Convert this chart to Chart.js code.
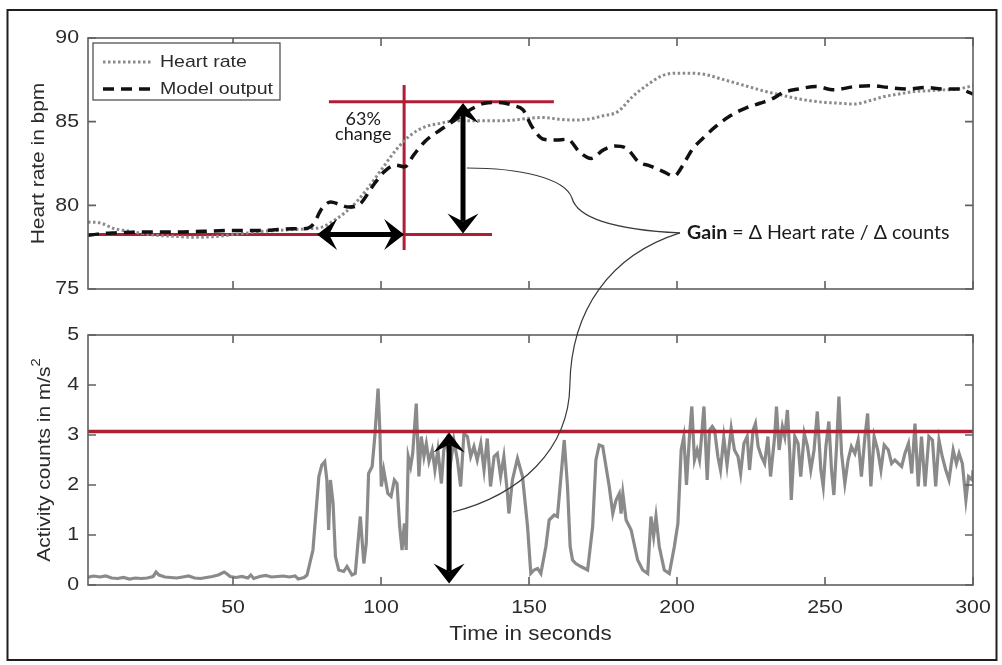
<!DOCTYPE html>
<html>
<head>
<meta charset="utf-8">
<script src="https://cdn.jsdelivr.net/npm/chart.js@4.4.1/dist/chart.umd.min.js"></script>
<style>
  body { margin: 0; background: #fff; }
  #fig { position: relative; width: 1002px; height: 665px; }
  #fig canvas { position: absolute; left: 0; top: 0; }
</style>
</head>
<body>
<div id="fig">
  <canvas id="hrChart" width="1002" height="665"></canvas>
  <canvas id="actChart" width="1002" height="665"></canvas>
  <canvas id="notes" width="1002" height="665"></canvas>
</div>
<script>
// ---- data ----
var timeTicks = [50, 100, 150, 200, 250, 300];
var hrTicks = [75, 80, 85, 90];
var countTicks = [0, 1, 2, 3, 4, 5];

var hrTime = [1, 5, 10, 15, 20, 25, 30, 35, 40, 45, 50, 55, 60, 65, 70, 75, 80, 85, 90, 95,
  100, 105, 110, 115, 120, 125, 130, 135, 140, 145, 150, 155, 160, 165, 170, 175, 180, 185, 190, 195,
  200, 205, 210, 215, 220, 225, 230, 235, 240, 245, 250, 255, 260, 265, 270, 275, 280, 285, 290, 295, 300];
var hrValue = [79.0, 78.95, 78.6, 78.45, 78.3, 78.2, 78.15, 78.1, 78.1, 78.15, 78.25, 78.35, 78.45, 78.5, 78.55, 78.6, 78.7, 79.2, 79.9, 80.9,
  82.1, 83.3, 84.2, 84.7, 84.9, 85.05, 85.05, 85.05, 85.05, 85.1, 85.2, 85.25, 85.15, 85.1, 85.15, 85.35, 85.6, 86.5, 87.2, 87.75,
  87.9, 87.9, 87.8, 87.55, 87.3, 87.05, 86.8, 86.6, 86.4, 86.25, 86.15, 86.1, 86.05, 86.25, 86.5, 86.65, 86.8, 86.85, 86.9, 86.95, 87.15];

var modelTime = [1, 5, 10, 20, 30, 40, 50, 60, 65, 70, 74, 77, 80, 83, 86, 89, 93, 97, 101, 105,
  108, 111, 115, 120, 125, 130, 135, 140, 145, 148, 151, 155, 159, 163, 167, 171, 175, 179, 183, 187,
  191, 195, 199, 202, 205, 209, 213, 218, 223, 228, 232, 236, 241, 247, 253, 260, 266, 271, 278, 284, 290, 295, 300];
var modelValue = [78.2, 78.3, 78.35, 78.4, 78.4, 78.45, 78.5, 78.5, 78.55, 78.6, 78.6, 78.85, 79.8, 80.2, 80.05, 79.9, 80.1, 81.1, 82.0, 82.4,
  82.3, 83.0, 83.85, 84.5, 85.1, 85.7, 86.1, 86.15, 85.95, 85.7, 84.7, 83.95, 83.9, 83.95, 83.2, 82.8, 83.3, 83.55, 83.4, 82.6,
  82.35, 82.05, 81.75, 82.4, 83.3, 84.05, 84.7, 85.35, 85.8, 86.1, 86.35, 86.75, 86.95, 87.1, 86.9, 87.1, 87.15, 87.05, 86.95, 87.05, 86.95, 86.95, 86.65];

var actTime = [1, 2, 3, 5, 7, 9, 11, 13, 15, 17, 19, 21, 23, 24, 25, 27, 29, 31, 33, 35,
  37, 39, 41, 43, 45, 47, 48, 49, 51, 53, 55, 56, 57, 59, 61, 63, 65, 67, 69, 71,
  72, 74, 75, 77, 79, 80, 81, 81.7, 82.3, 82.9, 83.8, 84.6, 85.7, 87.4, 88.5, 90.2, 91.3, 92.4, 93, 94.2,
  95, 95.8, 97, 97.9, 99, 99.6, 100.1, 100.9, 102.3, 103.4, 104.5, 105.4, 106.3, 107.1, 107.9, 108.5, 109.2, 110, 110.7, 111.9,
  112.8, 113.6, 114.5, 115.3, 116.2, 117.3, 118.2, 119.2, 120.4, 121.2, 122.2, 123.4, 124.6, 125.8, 126.9, 128, 129.2, 130.3, 131.4, 132.5,
  133.7, 134.8, 135.9, 137, 138.2, 139.3, 140.4, 141.5, 142.7, 143.2, 144.4, 146.1, 147.8, 149.5, 150.6, 151.7, 152.9, 154, 155.7, 156.8,
  158.5, 159.6, 160.8, 161.9, 163, 163.9, 164.7, 165.8, 167.5, 169.8, 171.5, 172.6, 173.7, 174.9, 176, 177.1, 178.3, 179.4, 180.5, 181.1,
  181.7, 182.8, 184.5, 186.7, 188.4, 190.1, 191.2, 192.1, 192.9, 194, 195.7, 197.4, 199.1, 200.3, 201.4, 202.3, 203.2, 204.2, 205, 205.9,
  206.8, 207.6, 208.2, 209.1, 210.2, 211, 211.9, 212.7, 213.8, 214.7, 215.8, 216.9, 218.3, 219.4, 220.6, 221.5, 222.6, 223.7, 224.5, 225.7,
  226.5, 227.4, 228.5, 229.6, 230.7, 231.6, 233, 233.6, 234.5, 235.6, 236.4, 237.3, 238.1, 238.6, 239.8, 240.9, 241.8, 243, 244.1, 245.2,
  246.3, 247.4, 248.6, 249.4, 250.3, 251.3, 252.2, 253, 253.9, 254.7, 255.6, 256.7, 257.8, 258.9, 260.1, 261.2, 262.3, 263.5, 264.4, 265.5,
  266.6, 267.8, 268.9, 270, 271.4, 272.5, 273.6, 274.8, 275.9, 277, 278.2, 279.3, 280.4, 281.5, 282.6, 283.8, 285.1, 286.3, 287.4, 288.5,
  289.6, 290.8, 291.9, 293.3, 294.4, 295.3, 296.4, 297.6, 298.5, 299.8, 300];
var actCounts = [0.15, 0.17, 0.18, 0.16, 0.18, 0.14, 0.13, 0.15, 0.12, 0.14, 0.13, 0.14, 0.17, 0.26, 0.2, 0.16, 0.15, 0.14, 0.16, 0.18,
  0.14, 0.13, 0.15, 0.17, 0.2, 0.26, 0.22, 0.17, 0.15, 0.17, 0.14, 0.2, 0.13, 0.17, 0.19, 0.16, 0.17, 0.18, 0.16, 0.18,
  0.12, 0.15, 0.2, 0.7, 2.17, 2.4, 2.47, 2.1, 1.1, 2.1, 1.63, 0.57, 0.3, 0.27, 0.37, 0.2, 0.23, 0.97, 1.37, 0.43,
  0.83, 2.23, 2.37, 2.97, 3.93, 3.1, 1.97, 2.3, 1.83, 1.77, 2.1, 2.03, 1.17, 0.7, 1.23, 0.7, 2.57, 2.37, 2.63, 3.63,
  2.17, 2.97, 2.57, 2.83, 2.47, 2.7, 2.3, 2.7, 2.03, 2.7, 2.9, 2.4, 2.9, 2.5, 1.97, 3.03, 2.97, 2.57, 2.77, 2.5,
  2.83, 2.3, 2.93, 1.97, 2.57, 2.63, 2.17, 2.57, 1.83, 1.43, 2.1, 2.53, 2.17, 1.17, 0.23, 0.3, 0.33, 0.23, 0.77, 1.3,
  1.4, 1.37, 2.17, 2.9, 1.97, 0.77, 0.5, 0.43, 0.37, 0.3, 1.17, 2.5, 2.8, 2.77, 2.37, 1.97, 1.43, 1.7, 1.83, 1.43,
  1.83, 1.3, 1.1, 0.5, 0.3, 0.23, 1.37, 0.97, 1.37, 0.77, 0.3, 0.23, 0.77, 1.23, 2.7, 2.97, 2.0, 2.97, 3.57, 2.5,
  2.7, 2.5, 2.9, 3.57, 2.1, 3.1, 3.17, 3.1, 2.57, 2.3, 2.95, 2.4, 3.13, 2.7, 2.57, 2.23, 2.83, 2.97, 2.3, 3.1,
  3.23, 2.77, 2.57, 2.43, 2.97, 2.17, 2.97, 3.57, 2.7, 3.17, 2.97, 3.5, 2.63, 1.7, 2.97, 2.83, 2.17, 3.03, 2.77, 2.3,
  2.7, 3.47, 2.3, 1.97, 2.77, 3.27, 2.3, 1.8, 2.77, 3.77, 2.63, 2.03, 2.5, 2.77, 2.63, 2.9, 2.17, 2.97, 3.43, 1.97,
  2.97, 2.7, 2.3, 2.8, 2.7, 2.43, 2.5, 2.43, 2.37, 2.63, 2.83, 2.23, 3.23, 1.97, 2.97, 1.97, 2.97, 2.9, 1.97, 2.9,
  2.57, 2.3, 2.1, 2.7, 2.43, 2.63, 2.43, 1.7, 2.17, 2.1, 2.3];

// ---- annotations, in data units ----
var hrGuides = [[[1, 78.26], [137.5, 78.26]], [[82.4, 86.19], [158.4, 86.19]], [[107.8, 77.33], [107.8, 87.19]]];
var countGuide = [[1, 3.07], [300, 3.07]];
var hrArrows = [[[78.4, 78.26], [107.8, 78.26]], [[127.7, 86.12], [127.7, 78.32]]];
var countArrows = [[[123.0, 3.05], [123.0, 0.03]]];
var changeNote = [['63%', 94, 85.16], ['change', 94, 84.26]];
var gainAnchor = [203.4, 78.35];
var gainLinkUpper = [[129.0, 82.23, 'top'], [146.9, 82.23, 'top'], [162.1, 81.63, 'top'], [164.5, 80.44, 'top'],
  [166.5, 79.12, 'top'], [180.7, 78.53, 'top'], [201.0, 78.35, 'top']];
var gainLinkLower = [[201.0, 78.35, 'top'], [177.4, 77.03, 'top'], [164.2, 73.75, 'top'], [163.8, 4.0, 'bot'],
  [163.5, 2.7, 'bot'], [146.9, 1.8, 'bot'], [124.3, 1.46, 'bot']];

var FONT = '"Liberation Sans", Arial, sans-serif';
var NOTE_FONT = 'Lato, "Open Sans", sans-serif';
var TEXT = '#2b2b2b';
var AXIS = '#606060';
var RED = '#b01e36';
var GREY = '#8a8a8a';

function pts(xs, ys) {
  return xs.map(function (x, i) { return { x: x, y: ys[i] }; });
}

// text drawn with a horizontal stretch along the writing direction
function drawRich(ctx, parts, x, y, o) {
  ctx.save();
  ctx.translate(x, y);
  if (o.rotate) ctx.rotate(o.rotate);
  ctx.scale(o.sx || 1, 1);
  var fam = o.family || FONT;
  var fontFor = function (p) {
    return (p.bold ? 'bold ' : '') + (p.sup ? o.size * 0.7 : o.size) + 'px ' + fam;
  };
  var widths = parts.map(function (p) { ctx.font = fontFor(p); return ctx.measureText(p.text).width; });
  var total = widths.reduce(function (a, b) { return a + b; }, 0);
  var cx = o.align === 'left' ? 0 : (o.align === 'right' ? -total : -total / 2);
  ctx.textAlign = 'left';
  ctx.textBaseline = 'middle';
  ctx.fillStyle = o.color || TEXT;
  parts.forEach(function (p, i) {
    ctx.font = fontFor(p);
    ctx.fillText(p.text, cx, p.sup ? -o.size * 0.45 : 0);
    cx += widths[i];
  });
  ctx.restore();
}

function arrowHead(ctx, tx, ty, dx, dy) {
  var L = 20, W = 15.5, N = 12;
  var px = -dy, py = dx;
  ctx.beginPath();
  ctx.moveTo(tx, ty);
  ctx.lineTo(tx - dx * L + px * W, ty - dy * L + py * W);
  ctx.lineTo(tx - dx * N, ty - dy * N);
  ctx.lineTo(tx - dx * L - px * W, ty - dy * L - py * W);
  ctx.closePath();
  ctx.fill();
}

function doubleArrow(ctx, x1, y1, x2, y2) {
  var len = Math.hypot(x2 - x1, y2 - y1), dx = (x2 - x1) / len, dy = (y2 - y1) / len;
  ctx.save();
  ctx.strokeStyle = '#000';
  ctx.fillStyle = '#000';
  ctx.lineWidth = 5;
  ctx.beginPath();
  ctx.moveTo(x1 + dx * 12, y1 + dy * 12);
  ctx.lineTo(x2 - dx * 12, y2 - dy * 12);
  ctx.stroke();
  arrowHead(ctx, x2, y2, dx, dy);
  arrowHead(ctx, x1, y1, -dx, -dy);
  ctx.restore();
}

// MATLAB style box with inward ticks, tick labels and axis titles
var matlabFrame = {
  id: 'matlabFrame',
  afterDraw: function (chart, args, o) {
    var ctx = chart.ctx, a = chart.chartArea, x = chart.scales.x, y = chart.scales.y;
    ctx.save();
    ctx.strokeStyle = AXIS;
    ctx.lineWidth = 1.6;
    ctx.strokeRect(a.left, a.top, a.right - a.left, a.bottom - a.top);
    ctx.beginPath();
    o.xTicks.forEach(function (v) {
      var px = x.getPixelForValue(v);
      ctx.moveTo(px, a.bottom); ctx.lineTo(px, a.bottom - 8);
      ctx.moveTo(px, a.top); ctx.lineTo(px, a.top + 8);
    });
    o.yTicks.forEach(function (v) {
      var py = y.getPixelForValue(v);
      ctx.moveTo(a.left, py); ctx.lineTo(a.left + 8, py);
      ctx.moveTo(a.right, py); ctx.lineTo(a.right - 8, py);
    });
    ctx.stroke();
    ctx.restore();
    o.yTicks.forEach(function (v) {
      drawRich(ctx, [{ text: String(v) }], a.left - 9, y.getPixelForValue(v), { size: 19, sx: 1.12, align: 'right' });
    });
    if (o.xLabels) {
      o.xTicks.forEach(function (v) {
        drawRich(ctx, [{ text: String(v) }], x.getPixelForValue(v), a.bottom + 23, { size: 19, sx: 1.12 });
      });
      drawRich(ctx, [{ text: o.xTitle }], (a.left + a.right) / 2, a.bottom + 49, { size: 20, sx: 1.12 });
    }
    drawRich(ctx, o.yTitle, a.left - o.yTitleGap, (a.top + a.bottom) / 2, { size: 19, sx: 1.1, rotate: -Math.PI / 2 });
  }
};

var arrowNotes = {
  id: 'arrowNotes',
  afterDraw: function (chart, args, o) {
    var ctx = chart.ctx, x = chart.scales.x, y = chart.scales.y;
    o.arrows.forEach(function (ar) {
      doubleArrow(ctx, x.getPixelForValue(ar[0][0]), y.getPixelForValue(ar[0][1]),
        x.getPixelForValue(ar[1][0]), y.getPixelForValue(ar[1][1]));
    });
    (o.texts || []).forEach(function (t) {
      drawRich(ctx, [{ text: t[0] }], x.getPixelForValue(t[1]), y.getPixelForValue(t[2]),
        { size: 18, family: NOTE_FONT, color: '#1a1a1a' });
    });
  }
};

var boxLegend = {
  id: 'boxLegend',
  afterDraw: function (chart, args, o) {
    if (!o.show) return;
    var ctx = chart.ctx, a = chart.chartArea;
    var bx = a.left + 5, by = a.top + 5, bw = 187, bh = 57;
    ctx.save();
    ctx.fillStyle = '#fff';
    ctx.fillRect(bx, by, bw, bh);
    ctx.strokeStyle = '#444';
    ctx.lineWidth = 1.2;
    ctx.strokeRect(bx, by, bw, bh);
    chart.data.datasets.slice(0, 2).forEach(function (ds, i) {
      var ly = by + 19 + i * 27;
      ctx.beginPath();
      ctx.strokeStyle = ds.borderColor;
      ctx.lineWidth = ds.borderWidth;
      ctx.setLineDash(ds.borderDash);
      ctx.moveTo(bx + 10, ly);
      ctx.lineTo(bx + 59, ly);
      ctx.stroke();
      ctx.setLineDash([]);
      drawRich(ctx, [{ text: ds.label }], bx + 67, ly, { size: 17, sx: 1.15, align: 'left' });
    });
    ctx.restore();
  }
};

Chart.defaults.font.family = FONT;

var guideSets = hrGuides.map(function (g) {
  return { label: '', data: g.map(function (p) { return { x: p[0], y: p[1] }; }), borderColor: RED,
    borderWidth: 3, pointRadius: 0, tension: 0, order: 5 };
});

var hrChart = new Chart(document.getElementById('hrChart'), {
  type: 'line',
  data: {
    datasets: [{
      label: 'Heart rate',
      data: pts(hrTime, hrValue),
      borderColor: GREY,
      borderWidth: 3,
      borderDash: [2.5, 2.5],
      pointRadius: 0,
      cubicInterpolationMode: 'monotone',
      order: 2
    }, {
      label: 'Model output',
      data: pts(modelTime, modelValue),
      borderColor: '#111',
      borderWidth: 3.5,
      borderDash: [11, 7],
      pointRadius: 0,
      cubicInterpolationMode: 'monotone',
      order: 1
    }].concat(guideSets)
  },
  options: {
    responsive: false,
    animation: false,
    events: [],
    layout: { padding: { left: 88, right: 29, top: 38, bottom: 376 } },
    scales: {
      x: { type: 'linear', min: 1, max: 300, display: false },
      y: { min: 75, max: 90, display: false }
    },
    plugins: {
      legend: { display: false },
      tooltip: { enabled: false },
      matlabFrame: { xTicks: timeTicks, yTicks: hrTicks, xLabels: false, yTitle: [{ text: 'Heart rate in bpm' }], yTitleGap: 49 },
      arrowNotes: { arrows: hrArrows, texts: changeNote },
      boxLegend: { show: true }
    }
  },
  plugins: [matlabFrame, boxLegend, arrowNotes]
});

var actChart = new Chart(document.getElementById('actChart'), {
  type: 'line',
  data: {
    datasets: [{
      label: 'Activity counts',
      data: pts(actTime, actCounts),
      borderColor: GREY,
      borderWidth: 3.2,
      pointRadius: 0,
      tension: 0,
      order: 2
    }, {
      label: '',
      data: countGuide.map(function (p) { return { x: p[0], y: p[1] }; }),
      borderColor: RED,
      borderWidth: 3.5,
      pointRadius: 0,
      order: 1
    }]
  },
  options: {
    responsive: false,
    animation: false,
    events: [],
    layout: { padding: { left: 88, right: 29, top: 335, bottom: 80 } },
    scales: {
      x: { type: 'linear', min: 1, max: 300, display: false },
      y: { min: 0, max: 5, display: false }
    },
    plugins: {
      legend: { display: false },
      tooltip: { enabled: false },
      matlabFrame: { xTicks: timeTicks, yTicks: countTicks, xLabels: true, xTitle: 'Time in seconds',
        yTitle: [{ text: 'Activity counts in m/s' }, { text: '2', sup: true }], yTitleGap: 43 },
      arrowNotes: { arrows: countArrows },
      boxLegend: { show: false }
    }
  },
  plugins: [matlabFrame, boxLegend, arrowNotes]
});

// thin connector, gain label and the outer frame
(function () {
  var ctx = document.getElementById('notes').getContext('2d');
  var px = function (p) {
    var c = p[2] === 'bot' ? actChart : hrChart;
    return [c.scales.x.getPixelForValue(p[0]), c.scales.y.getPixelForValue(p[1])];
  };
  ctx.strokeStyle = '#3a3a3a';
  ctx.lineWidth = 1.2;
  [gainLinkUpper, gainLinkLower].forEach(function (path) {
    var q = path.map(px);
    ctx.beginPath();
    ctx.moveTo(q[0][0], q[0][1]);
    for (var i = 1; i + 2 < q.length; i += 3) {
      ctx.bezierCurveTo(q[i][0], q[i][1], q[i + 1][0], q[i + 1][1], q[i + 2][0], q[i + 2][1]);
    }
    ctx.stroke();
  });
  var g = px([gainAnchor[0], gainAnchor[1], 'top']);
  drawRich(ctx, [{ text: 'Gain', bold: true }, { text: ' = \u0394 Heart rate / \u0394 counts' }], g[0], g[1],
    { size: 19.6, family: NOTE_FONT, align: 'left', color: '#1a1a1a' });
  ctx.strokeStyle = '#1e1e1e';
  ctx.lineWidth = 2;
  ctx.strokeRect(7.5, 10, 989, 650);
})();
</script>
</body>
</html>
